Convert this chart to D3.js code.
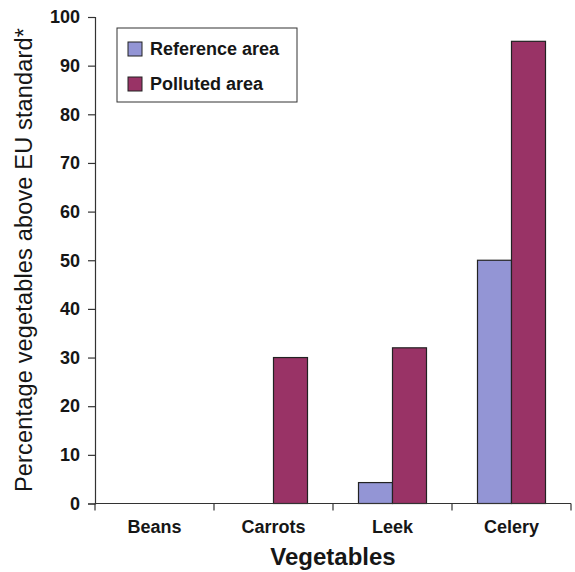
<!DOCTYPE html>
<html>
<head>
<meta charset="utf-8">
<script src="https://cdn.jsdelivr.net/npm/d3@7"></script>
<style>
  body { margin: 0; background: #fff; overflow: hidden; }
  text { font-family: "Liberation Sans", Arial, sans-serif; fill: #161616; }
</style>
</head>
<body>
<script>
// chart data
var vegetables = ["Beans", "Carrots", "Leek", "Celery"];
var seriesNames = ["Reference area", "Polluted area"];
var referenceArea = [0, 0, 4.3, 50];
var pollutedArea = [0, 30, 32, 95];
var yTicks = [0, 10, 20, 30, 40, 50, 60, 70, 80, 90, 100];
var colors = ["#9395d5", "#993366"];

var width = 575,
    height = 572;

var plotLeft = 95, plotRight = 571, plotTop = 17, plotBottom = 503.5;

var svg = d3.select("body").append("svg")
    .attr("width", width)
    .attr("height", height);

var x = d3.scaleBand()
    .domain(vegetables)
    .range([plotLeft, plotRight]);

var xInner = d3.scaleBand()
    .domain(seriesNames)
    .range([0, x.bandwidth()])
    .paddingOuter(0.75)
    .paddingInner(0);

var y = d3.scaleLinear()
    .domain([0, 100])
    .range([plotBottom, plotTop]);

var rows = vegetables.map(function(v, i) {
  return { name: v, values: [referenceArea[i], pollutedArea[i]] };
});

// bars
var groups = svg.selectAll("g.cat")
    .data(rows)
  .enter().append("g")
    .attr("class", "cat")
    .attr("transform", function(d) { return "translate(" + x(d.name) + ",0)"; });

groups.selectAll("rect")
    .data(function(d) { return d.values.map(function(v, j) { return { s: seriesNames[j], v: v, j: j }; }).filter(function(e) { return e.v > 0; }); })
  .enter().append("rect")
    .attr("x", function(d) { return xInner(d.s); })
    .attr("width", xInner.bandwidth())
    .attr("y", function(d) { return y(d.v); })
    .attr("height", function(d) { return y(0) - y(d.v); })
    .attr("fill", function(d) { return colors[d.j]; })
    .attr("stroke", "#222")
    .attr("stroke-width", 1.2);

// y axis
var yAxis = svg.append("g")
    .attr("transform", "translate(" + plotLeft + ",0)")
    .call(d3.axisLeft(y).tickValues(yTicks).tickSize(7).tickPadding(8));
yAxis.selectAll("text").style("font-size", "18px").style("font-weight", "bold");
yAxis.selectAll("line, path").attr("stroke", "#333").attr("stroke-width", 1.2);

// x axis, ticks at band edges
var xAxis = svg.append("g")
    .attr("transform", "translate(0," + plotBottom + ")");
xAxis.append("line")
    .attr("x1", plotLeft).attr("x2", plotRight)
    .attr("stroke", "#333").attr("stroke-width", 1.2);
var edges = vegetables.map(function(v) { return x(v); }).concat([plotRight]);
xAxis.selectAll("line.tick")
    .data(edges)
  .enter().append("line")
    .attr("class", "tick")
    .attr("x1", function(d) { return d; })
    .attr("x2", function(d) { return d; })
    .attr("y1", 0).attr("y2", 7)
    .attr("stroke", "#333").attr("stroke-width", 1.2);
xAxis.selectAll("text")
    .data(vegetables)
  .enter().append("text")
    .attr("x", function(d) { return x(d) + x.bandwidth() / 2; })
    .attr("y", 29)
    .attr("text-anchor", "middle")
    .style("font-size", "18px")
    .style("font-weight", "bold")
    .text(function(d) { return d; });

// axis titles
svg.append("text")
    .attr("x", (plotLeft + plotRight) / 2)
    .attr("y", 565)
    .attr("text-anchor", "middle")
    .style("font-size", "24px")
    .style("font-weight", "bold")
    .text("Vegetables");

svg.append("text")
    .attr("transform", "translate(32,260) rotate(-90)")
    .attr("text-anchor", "middle")
    .attr("textLength", 464)
    .attr("lengthAdjust", "spacing")
    .style("font-size", "23.5px")
    .text("Percentage vegetables above EU standard*");

// legend
var legend = svg.append("g");
legend.append("rect")
    .attr("x", 117).attr("y", 28)
    .attr("width", 180).attr("height", 74)
    .attr("fill", "#fff")
    .attr("stroke", "#333")
    .attr("stroke-width", 1);
var items = legend.selectAll("g.item")
    .data(seriesNames)
  .enter().append("g")
    .attr("class", "item")
    .attr("transform", function(d, i) { return "translate(128," + (42 + i * 35) + ")"; });
items.append("rect")
    .attr("width", 14).attr("height", 14)
    .attr("fill", function(d, i) { return colors[i]; })
    .attr("stroke", "#222");
items.append("text")
    .attr("x", 22).attr("y", 13)
    .style("font-size", "18px")
    .style("font-weight", "bold")
    .text(function(d) { return d; });
</script>
</body>
</html>
